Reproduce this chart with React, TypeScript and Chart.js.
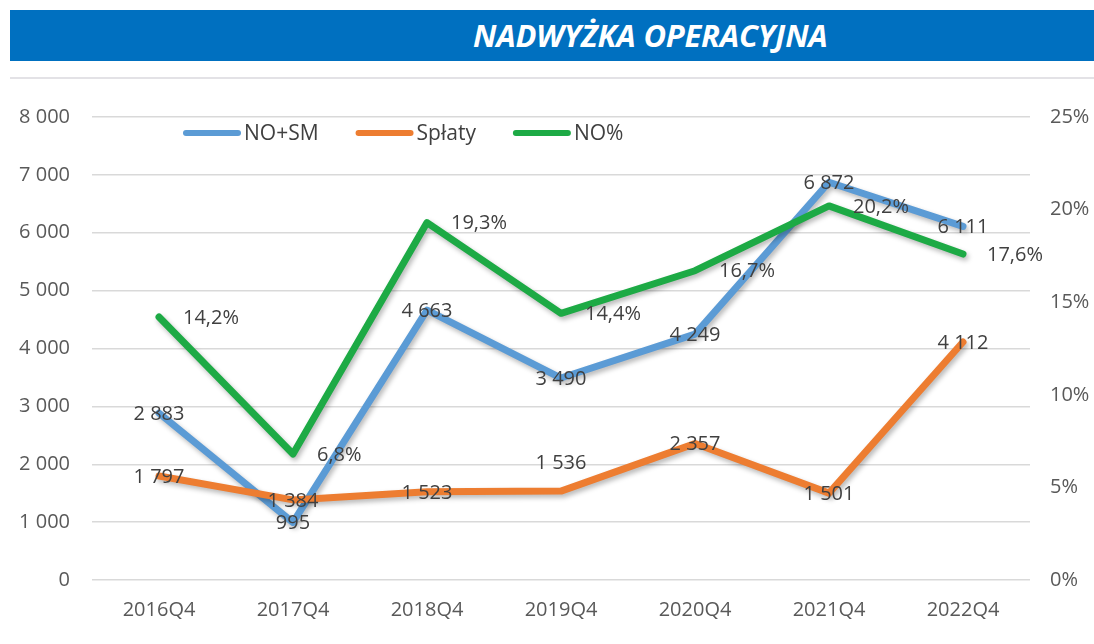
import React, { useEffect, useRef } from "react";
import { Chart, registerables } from "chart.js";

Chart.register(...registerables);

// ---- data ----
const categories = ["2016Q4", "2017Q4", "2018Q4", "2019Q4", "2020Q4", "2021Q4", "2022Q4"];
const noSm = [2883, 995, 4663, 3490, 4249, 6872, 6111];
const splaty = [1797, 1384, 1523, 1536, 2357, 1501, 4112];
const noPct = [14.2, 6.8, 19.3, 14.4, 16.7, 20.2, 17.6];
const seriesNames = ["NO+SM", "Spłaty", "NO%"];
const leftAxisMax = 8000;
const leftAxisStep = 1000;
const rightAxisMax = 25;
const rightAxisStep = 5;
const title = "NADWYŻKA OPERACYJNA";

const BLUE = "#5B9BD5";
const ORANGE = "#ED7D31";
const GREEN = "#1DAA45";
const FONT = "'Open Sans', 'Noto Sans', sans-serif";

const fmtNum = (v: number) => String(v).replace(/\B(?=(\d{3})+(?!\d))/g, " ");
const fmtPct = (v: number) => v.toFixed(1).replace(".", ",") + "%";

const shadowPlugin = {
  id: "lineShadow",
  beforeDatasetDraw(chart: any) {
    const ctx = chart.ctx;
    ctx.save();
    ctx.shadowColor = "rgba(0,0,0,0.28)";
    ctx.shadowBlur = 5;
    ctx.shadowOffsetX = 2;
    ctx.shadowOffsetY = 3;
  },
  afterDatasetDraw(chart: any) {
    chart.ctx.restore();
  },
};

const labelPlugin = {
  id: "valueLabels",
  afterDatasetsDraw(chart: any) {
    const ctx = chart.ctx;
    ctx.save();
    ctx.font = `20px ${FONT}`;
    ctx.fillStyle = "#404040";
    ctx.textBaseline = "middle";
    chart.data.datasets.forEach((ds: any, di: number) => {
      const meta = chart.getDatasetMeta(di);
      meta.data.forEach((pt: any, i: number) => {
        const v = ds.data[i];
        if (di === 2) {
          ctx.textAlign = "left";
          ctx.fillText(fmtPct(v), pt.x + 24, pt.y + 1);
        } else {
          ctx.textAlign = "center";
          const dy = di === 1 && i === 3 ? -28 : 1;
          ctx.fillText(fmtNum(v), pt.x, pt.y + dy);
        }
      });
    });
    ctx.restore();
  },
};

// legend drawn inside the plot area, in one row, like the original
const legendPlugin = {
  id: "inlineLegend",
  afterDraw(chart: any) {
    const ctx = chart.ctx;
    ctx.save();
    ctx.font = `21px ${FONT}`;
    ctx.textBaseline = "middle";
    ctx.textAlign = "left";
    const y = 53;
    let x = 183;
    chart.data.datasets.forEach((ds: any) => {
      const boxW = 58;
      ctx.strokeStyle = ds.borderColor;
      ctx.lineWidth = 6;
      ctx.lineCap = "round";
      ctx.beginPath();
      ctx.moveTo(x + 3, y);
      ctx.lineTo(x + boxW - 3, y);
      ctx.stroke();
      const tx = x + boxW + 3;
      ctx.fillStyle = "#404040";
      ctx.fillText(ds.label, tx, y + 1);
      x = tx + ctx.measureText(ds.label).width + 37;
    });
    ctx.restore();
  },
};

export default function App() {
  const canvasRef = useRef<HTMLCanvasElement | null>(null);

  useEffect(() => {
    let chart: Chart | null = null;
    let cancelled = false;
    const make = () => {
      if (cancelled || !canvasRef.current) return;
      chart = new Chart(canvasRef.current, {
        type: "line",
        data: {
          labels: categories,
          datasets: [
            {
              label: seriesNames[0],
              data: noSm,
              borderColor: BLUE,
              backgroundColor: BLUE,
              borderWidth: 7,
              pointRadius: 0,
              tension: 0,
              borderCapStyle: "round",
              borderJoinStyle: "round",
              yAxisID: "y",
              order: 3,
            },
            {
              label: seriesNames[1],
              data: splaty,
              borderColor: ORANGE,
              backgroundColor: ORANGE,
              borderWidth: 7,
              pointRadius: 0,
              tension: 0,
              borderCapStyle: "round",
              borderJoinStyle: "round",
              yAxisID: "y",
              order: 2,
            },
            {
              label: seriesNames[2],
              data: noPct,
              borderColor: GREEN,
              backgroundColor: GREEN,
              borderWidth: 7,
              pointRadius: 0,
              tension: 0,
              borderCapStyle: "round",
              borderJoinStyle: "round",
              yAxisID: "y1",
              order: 1,
            },
          ],
        },
        options: {
          animation: false,
          responsive: true,
          maintainAspectRatio: false,
          layout: { padding: { top: 37, left: 0, right: 0, bottom: 0 } },
          plugins: {
            legend: { display: false },
            tooltip: { enabled: false },
          },
          scales: {
            x: {
              offset: true,
              grid: { display: false, drawTicks: false },
              border: { display: false },
              ticks: { color: "#595959", font: { family: FONT, size: 20 }, padding: 18, maxRotation: 0 },
              afterFit: (s: any) => {
                s.height = 64;
              },
            },
            y: {
              position: "left",
              min: 0,
              max: leftAxisMax,
              ticks: {
                stepSize: leftAxisStep,
                color: "#595959",
                font: { family: FONT, size: 20 },
                padding: 22,
                callback: (v: any) => fmtNum(Number(v)),
              },
              grid: { color: "#D9D9D9", lineWidth: 1.5, drawTicks: false },
              border: { display: false },
              afterFit: (s: any) => {
                s.width = 92;
              },
            },
            y1: {
              position: "right",
              min: 0,
              max: rightAxisMax,
              ticks: {
                stepSize: rightAxisStep,
                color: "#595959",
                font: { family: FONT, size: 20 },
                padding: 20,
                callback: (v: any) => `${v}%`,
              },
              grid: { display: false, drawTicks: false },
              border: { display: false },
              afterFit: (s: any) => {
                s.width = 64;
              },
            },
          },
        },
        plugins: [shadowPlugin, labelPlugin, legendPlugin],
      } as any);
    };
    const fontsReady = (document as any).fonts
      ? Promise.all([
          (document as any).fonts.load(`20px 'Open Sans'`),
          (document as any).fonts.load(`italic bold 31px 'Open Sans'`),
        ]).catch(() => null)
      : Promise.resolve(null);
    fontsReady.then(make);
    return () => {
      cancelled = true;
      if (chart) chart.destroy();
    };
  }, []);

  return (
    <div
      style={{
        position: "absolute",
        left: 0,
        top: 0,
        width: 1094,
        height: 644,
        background: "#ffffff",
        overflow: "hidden",
        fontFamily: FONT,
      }}
    >
      <div
        style={{
          position: "absolute",
          left: 10,
          top: 10,
          width: 1084,
          height: 51,
          background: "#0070C0",
        }}
      >
        <div
          style={{
            position: "absolute",
            left: 463,
            top: 0,
            height: 51,
            lineHeight: "51px",
            color: "#ffffff",
            fontWeight: 700,
            fontStyle: "italic",
            fontSize: 31,
            letterSpacing: -0.2,
            whiteSpace: "nowrap",
          }}
        >
          {title}
        </div>
      </div>
      <div
        style={{
          position: "absolute",
          left: 10,
          top: 77,
          width: 1084,
          height: 2,
          background: "#E3E2E6",
        }}
      />
      <div style={{ position: "absolute", left: 0, top: 80, width: 1094, height: 564 }}>
        <canvas ref={canvasRef} />
      </div>
    </div>
  );
}
